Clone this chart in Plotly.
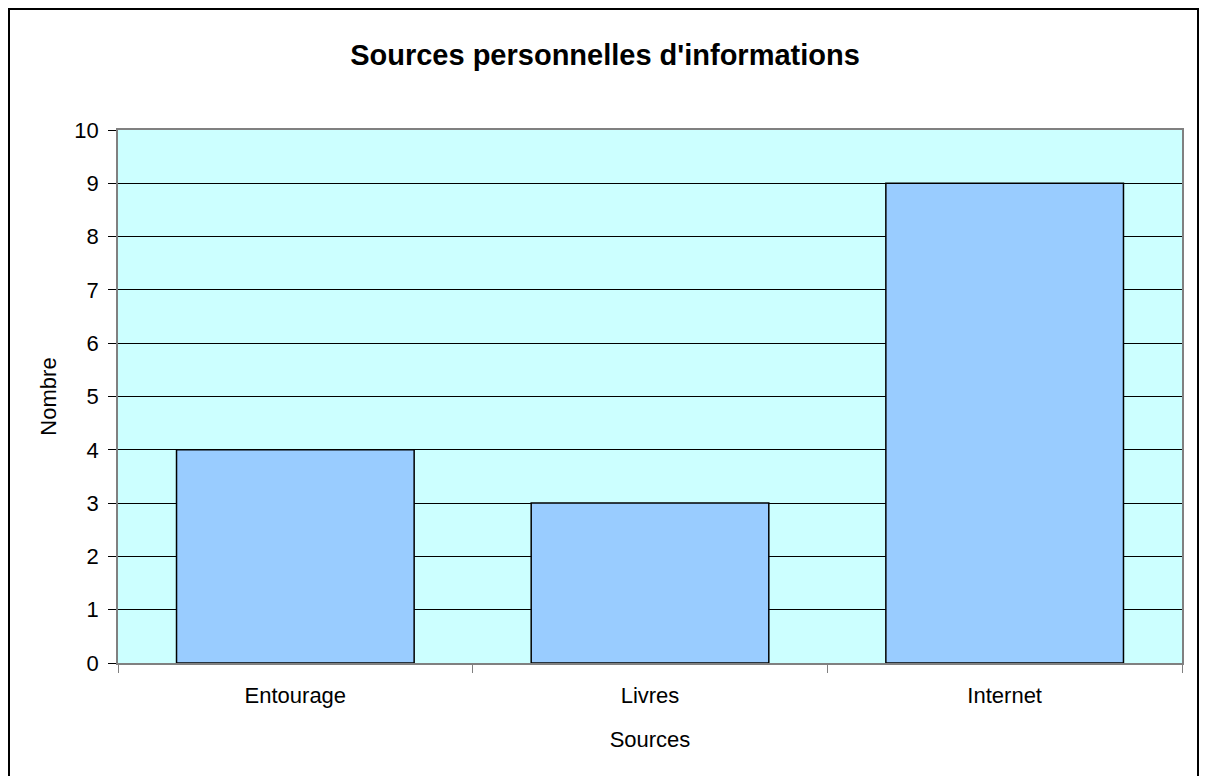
import plotly.graph_objects as go

# données du graphique
sources = ["Entourage", "Livres", "Internet"]
nombre = [4, 3, 9]
y_ticks = list(range(0, 11))

police = "Arial, Liberation Sans, sans-serif"

# la page html ajoute une marge de 8 px autour de la figure : on compense
decal = 8
gauche, haut, larg, haut_zone = 118 - decal, 130 - decal, 1064, 533

fig = go.Figure(
    go.Bar(
        x=sources,
        y=nombre,
        marker=dict(color="#99CCFF", line=dict(color="black", width=1.5)),
    )
)

fig.update_layout(
    width=1207,
    height=776,
    margin=dict(l=gauche, r=1207 - gauche - larg, t=haut, b=776 - haut - haut_zone),
    paper_bgcolor="white",
    plot_bgcolor="#CCFFFF",
    bargap=0.33,
    showlegend=False,
    font=dict(family=police, size=22, color="black"),
    title=dict(
        text="<b>Sources personnelles d'informations</b>",
        x=(605 - decal) / 1207,
        xanchor="center",
        y=1 - (55 - decal) / 776,
        yanchor="middle",
        font=dict(family=police, size=29, color="black"),
    ),
)

fig.update_xaxes(
    title=dict(text="Sources", standoff=24, font=dict(family=police, size=22)),
    tickfont=dict(family=police, size=22),
    tickson="boundaries",
    ticks="outside",
    ticklen=8,
    tickcolor="#808080",
    ticklabelstandoff=12,
    showline=True,
    linecolor="#808080",
    linewidth=1.5,
    mirror=True,
    showgrid=False,
)

fig.update_yaxes(
    title=dict(text="Nombre", standoff=12, font=dict(family=police, size=22)),
    tickfont=dict(family=police, size=22),
    range=[0, 10],
    tickvals=y_ticks,
    ticks="outside",
    ticklen=8,
    tickcolor="black",
    ticklabelstandoff=5,
    showline=True,
    linecolor="#808080",
    linewidth=1.5,
    mirror=True,
    showgrid=True,
    gridcolor="black",
    gridwidth=1,
    zeroline=False,
)

# cadre du graphique (coupé en bas comme dans l'original)
bas = haut + haut_zone
fig.add_shape(
    type="rect",
    xref="paper",
    yref="paper",
    x0=(9 - decal - gauche) / larg,
    x1=(1198 - decal - gauche) / larg,
    y0=(bas - 800) / haut_zone,
    y1=(bas - (9 - decal)) / haut_zone,
    line=dict(color="black", width=2),
    fillcolor="rgba(0,0,0,0)",
    layer="below",
)

fig.write_html("out.html")
